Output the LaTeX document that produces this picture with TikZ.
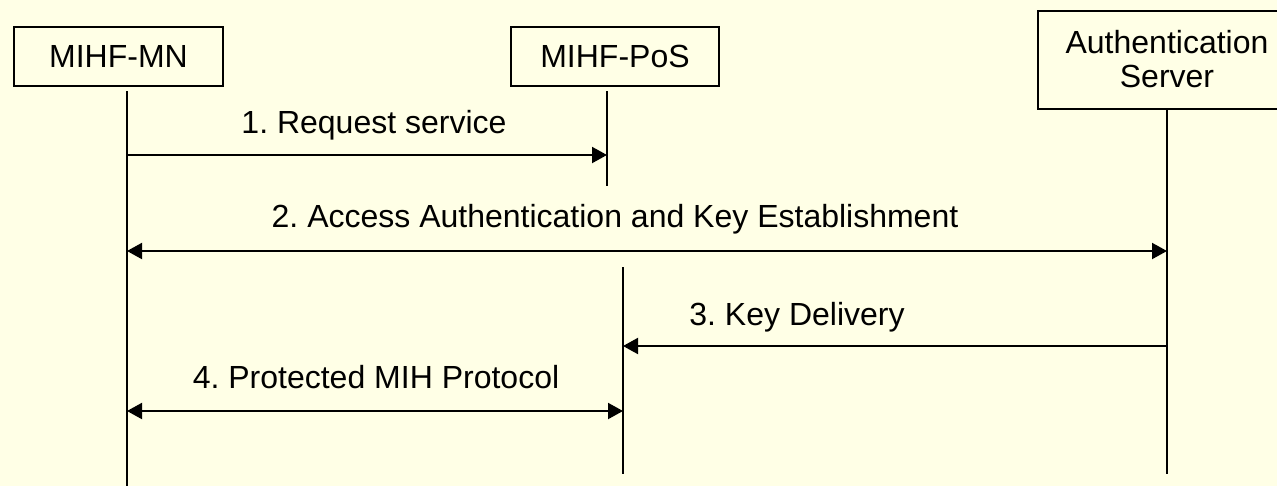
\documentclass[tikz,border=0pt]{standalone}
\usepackage{fontspec}
\setmainfont{Liberation Sans}
\frenchspacing
\usetikzlibrary{positioning,arrows.meta}
\definecolor{bgyellow}{RGB}{255,255,230}

\begin{document}
\begin{tikzpicture}[x=0.75pt,y=-0.75pt,
		entity/.style={draw, line width=1.5pt, inner sep=0pt, align=center, font=\fontsize{24}{25.5}\selectfont},
		life/.style={line width=1.5pt},
		msg/.style={line width=1.5pt, -{Triangle[length=11.25pt,width=12pt]}},
		both/.style={msg, {Triangle[length=11.25pt,width=12pt]}-{Triangle[length=11.25pt,width=12pt]}},
		lbl/.style={anchor=base, inner sep=0pt, font=\fontsize{24}{25.5}\selectfont}]
		
		\fill[bgyellow] (0,0) rectangle (1277,486);
		\clip (0,0) rectangle (1277,486);
		
		% entities
		\node[entity, minimum width=156.75pt, minimum height=44.25pt] (mn) at (118.5,56.5) {MIHF-MN};
		\node[entity, minimum width=156pt, minimum height=44.25pt] (pos) at (615,56.5) {MIHF-PoS};
		\node[entity, minimum width=193.5pt, minimum height=73.5pt] (as) at (1167,59.5) {Authentication\\Server};
		
		% lifelines
		\coordinate (mnT) at (127,91);
		\coordinate (mnB) at (127,486);
		\coordinate (posT) at (607,91);
		\coordinate (posM) at (607,186);
		\coordinate (posU) at (623,267);
		\coordinate (posB) at (623,474);
		\coordinate (asB) at (1167,474);
		\draw[life] (mnT) -- (mnB);
		\draw[life] (posT) -- (posM);
		\draw[life] (posU) -- (posB);
		\draw[life] (as.south) -- (asB);
		
		% message rows
		\coordinate (m1) at (0,155);
		\coordinate (m2) at (0,251);
		\coordinate (m3) at (0,346);
		\coordinate (m4) at (0,411);
		
		\draw[msg] (mnT |- m1) -- (posT |- m1);
		\draw[both] (mnT |- m2) -- (asB |- m2);
		\draw[msg] (asB |- m3) -- (posU |- m3);
		\draw[both] (mnT |- m4) -- (posU |- m4);
		
		\node[lbl] (l1) at (374,133) {1. Request service};
		\node[lbl] (l2) at (615,227) {2. Access Authentication and Key Establishment};
		\node[lbl] (l3) at (797,325) {3. Key Delivery};
		\node[lbl] (l4) at (376,388) {4. Protected MIH Protocol};
		
	\end{tikzpicture}
\end{document}
